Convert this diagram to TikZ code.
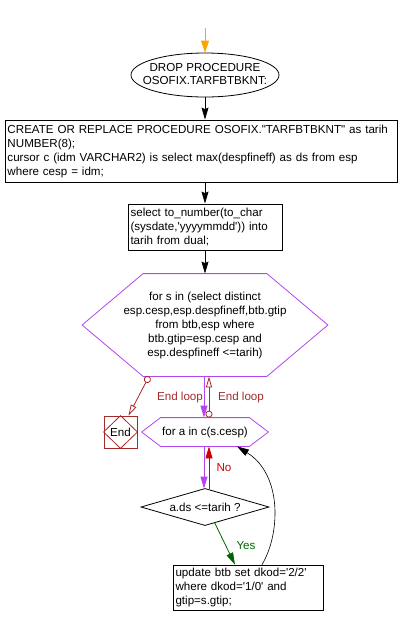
\documentclass[tikz,border=0pt]{standalone}
\usepackage{fontspec}
\setmainfont{Liberation Sans}[Ligatures=TeXOff]
\usetikzlibrary{arrows.meta,calc,shapes.geometric}
\definecolor{purp}{RGB}{180,70,240}
\definecolor{dred}{RGB}{165,42,42}
\definecolor{nored}{RGB}{210,0,0}
\definecolor{dgreen}{RGB}{0,100,0}
\definecolor{orng}{RGB}{255,165,0}
\begin{document}
\begin{tikzpicture}[x=1pt,y=-1pt, font=\fontsize{11.6}{14}\selectfont, line width=0.8pt,
  box/.style={draw, rectangle, align=left, inner xsep=2.5pt, inner ysep=0pt},
  plain/.style={inner sep=0pt, align=center},
  blkarrow/.style={-{Stealth[length=12pt,width=7pt,inset=1.5pt]}},
  fillarrow/.style={-{Triangle[length=12pt,width=7pt]}},
  openarrow/.style={dred, {Circle[open,length=7pt,width=7pt]}-{Triangle[open,length=11pt,width=6pt]}},
  hexline/.style={purp}]
\useasboundingbox (0,0) rectangle (406,625);
% nodes
\coordinate (o) at (205,28);
\node[ellipse, draw, minimum width=148, minimum height=44, inner sep=0pt] (e) at (205,75)
  {\makebox[0pt]{\fontsize{11.6}{13}\selectfont\begin{tabular}{@{}c@{}}DROP PROCEDURE\\OSOFIX.TARFBTBKNT:\end{tabular}}};
\node[box, text width=387, minimum height=62] (r1) at (201,151)
  {CREATE OR REPLACE PROCEDURE OSOFIX."TARFBTBKNT" as tarih\\NUMBER(8);\\cursor c (idm VARCHAR2) is select max(despfineff) as ds from esp\\where cesp = idm;};
\node[box, text width=149, minimum height=46] (r2) at (205,227)
  {select to\_number(to\_char\\(sysdate,'yyyymmdd')) into\\tarih from dual;};
\node[plain, minimum width=245, minimum height=102] (h1) at (205,325)
  {for s in (select distinct\\esp.cesp,esp.despfineff,btb.gtip\\from btb,esp where\\btb.gtip=esp.cesp and\\esp.despfineff <=tarih)};
\node[plain, minimum width=126, minimum height=28] (h2) at (205,432) {for a in c(s.cesp)};
\node[draw=dred, minimum width=33, minimum height=32, inner sep=0pt] (en) at (120.5,432) {End};
\node[plain, minimum width=127, minimum height=36] (d) at (205,507) {a.ds <=tarih ?};
\node[box, text width=145, minimum height=45] (r3) at (248,587.5)
  {update btb set dkod='2/2'\\where dkod='1/0' and\\gtip=s.gtip;};
% shapes drawn from node anchors
\draw[hexline] (h1.west) -- ($(h1.north west)+(61,0)$) -- ($(h1.north east)+(-61,0)$) -- (h1.east)
  -- ($(h1.south east)+(-61,0)$) -- ($(h1.south west)+(61,0)$) -- cycle;
\draw[hexline] (h2.west) -- ($(h2.north west)+(19,0)$) -- ($(h2.north east)+(-19,0)$) -- (h2.east)
  -- ($(h2.south east)+(-19,0)$) -- ($(h2.south west)+(19,0)$) -- cycle;
\draw[dred] (en.north) -- (en.east) -- (en.south) -- (en.west) -- cycle;
\draw (d.north) -- (d.east) -- (d.south) -- (d.west) -- cycle;
% connectors
\draw[orng, -{Triangle[length=12pt,width=8pt]}] (o) -- (e.north);
\draw[blkarrow] (e.south) -- (e.south |- r1.north);
\draw[blkarrow] (e.south |- r1.south) -- (r2.north);
\draw[blkarrow] (r2.south) -- (r2.south |- h1.north);
\draw[purp, fillarrow] ([xshift=-1pt]h1.south) -- ([xshift=-1pt]h2.north);
\draw[openarrow] ([xshift=4pt]h2.north) -- ([xshift=4pt]h1.south);
\draw[openarrow] ([xshift=-56pt]h1.south) -- ([xshift=8pt]en.north);
\node[text=dred] (l1) at (180,397) {End loop};
\node[text=dred] (l2) at (241,397) {End loop};
\draw[purp, fillarrow] ([xshift=-1pt]h2.south) -- ([xshift=-1pt]d.north);
\draw[nored, fillarrow] ([xshift=4pt]d.north) -- ([xshift=4pt]h2.south);
\node[text=nored] (lno) at (224,468) {No};
\draw[dgreen, fillarrow] ($(d.south)!0.15!(d.east)$) -- ([xshift=-13pt]r3.north);
\node[text=dgreen] (lyes) at (246,546) {Yes};
\draw[line width=0.6pt, -{Triangle[length=12pt,width=7pt]}] ([xshift=14pt]r3.north) .. controls (280,535) and (283,475) .. ([xshift=32pt]h2.south);
\end{tikzpicture}
\end{document}
